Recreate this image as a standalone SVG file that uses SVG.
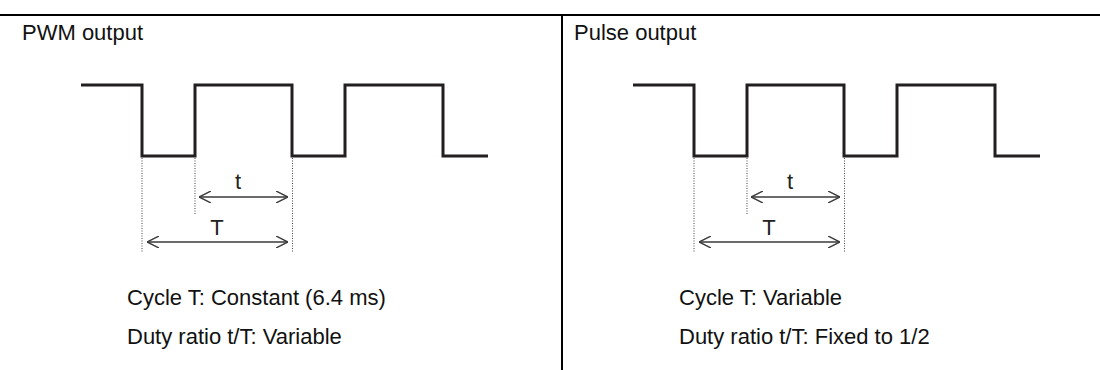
<svg xmlns="http://www.w3.org/2000/svg" width="1100" height="370" viewBox="0 0 1100 370">
  <style>
    .frame { stroke: #000; stroke-width: 2; fill: none; }
    .wave { stroke: #231f20; stroke-width: 3; fill: none; stroke-linejoin: miter; stroke-linecap: butt; }
    .dot { stroke: #444; stroke-width: 1; stroke-dasharray: 1 1.5; fill: none; }
    .dim { stroke: #3a3a3a; stroke-width: 1.4; fill: none; }
    .txt { font-family: "Liberation Sans", Arial, sans-serif; font-size: 22px; fill: #111; }
    .lbl { font-family: "Liberation Sans", Arial, sans-serif; font-size: 22px; fill: #222; text-anchor: middle; }
  </style>
  <defs>
    <marker id="ah" viewBox="0 0 12 12" refX="12" refY="6" markerWidth="12" markerHeight="12" markerUnits="userSpaceOnUse" orient="auto-start-reverse">
      <path d="M0,0 L12,6 L0,12" fill="none" stroke="#3a3a3a" stroke-width="1.4"/>
    </marker>
  </defs>
  <rect width="1100" height="370" fill="#fff"/>
  <g id="frame">
    <line class="frame" x1="0" y1="15" x2="1100" y2="15"/>
    <line class="frame" x1="562" y1="15" x2="562" y2="370"/>
  </g>
  <g id="pwm">
    <text class="txt" x="22" y="40">PWM output</text>
    <path class="wave" d="M81,85 H142 V156 H195 V85 H292 V156 H345 V85 H443 V156 H488"/>
    <g class="connectors">
      <line class="dot" x1="142" y1="158" x2="142" y2="252"/>
      <line class="dot" x1="195" y1="158" x2="195" y2="214"/>
      <line class="dot" x1="292.5" y1="158" x2="292.5" y2="252"/>
      <line class="dim" x1="199" y1="197" x2="288" y2="197" marker-start="url(#ah)" marker-end="url(#ah)"/>
      <line class="dim" x1="147" y1="242" x2="288" y2="242" marker-start="url(#ah)" marker-end="url(#ah)"/>
    </g>
    <text class="lbl" x="238" y="189">t</text>
    <text class="lbl" x="217" y="235">T</text>
    <text class="txt" x="127" y="305">Cycle T: Constant (6.4 ms)</text>
    <text class="txt" x="127" y="344">Duty ratio t/T: Variable</text>
  </g>
  <g id="pulse">
    <text class="txt" x="574" y="40">Pulse output</text>
    <path class="wave" d="M633,85 H694 V156 H747 V85 H844 V156 H897 V85 H995 V156 H1040"/>
    <g class="connectors">
      <line class="dot" x1="694" y1="158" x2="694" y2="252"/>
      <line class="dot" x1="747" y1="158" x2="747" y2="214"/>
      <line class="dot" x1="844.5" y1="158" x2="844.5" y2="252"/>
      <line class="dim" x1="751" y1="197" x2="840" y2="197" marker-start="url(#ah)" marker-end="url(#ah)"/>
      <line class="dim" x1="699" y1="242" x2="840" y2="242" marker-start="url(#ah)" marker-end="url(#ah)"/>
    </g>
    <text class="lbl" x="790" y="189">t</text>
    <text class="lbl" x="769" y="235">T</text>
    <text class="txt" x="679" y="305">Cycle T: Variable</text>
    <text class="txt" x="679" y="344">Duty ratio t/T: Fixed to 1/2</text>
  </g>
</svg>
